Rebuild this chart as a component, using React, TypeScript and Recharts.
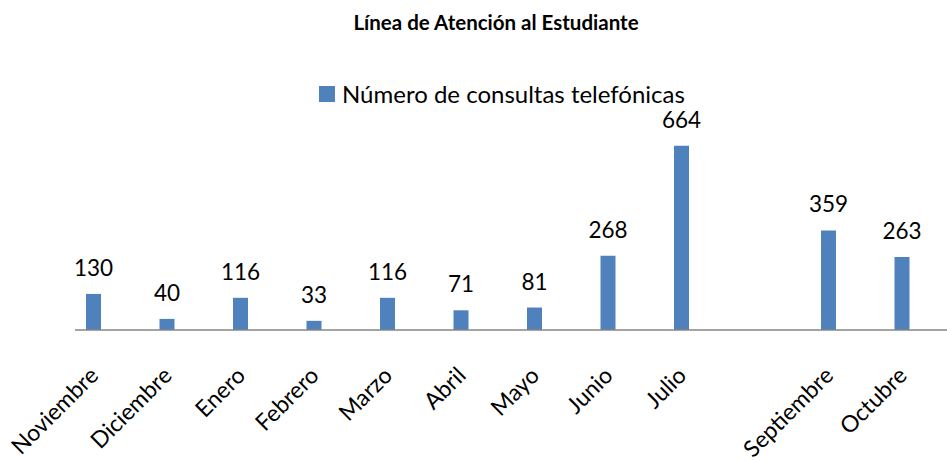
import React from 'react';
import { BarChart, Bar, XAxis, YAxis, LabelList } from 'recharts';

// Meses (Agosto sin dato ni etiqueta)
const meses = [
  'Noviembre',
  'Diciembre',
  'Enero',
  'Febrero',
  'Marzo',
  'Abril',
  'Mayo',
  'Junio',
  'Julio',
  '',
  'Septiembre',
  'Octubre',
];
const consultas: (number | null)[] = [130, 40, 116, 33, 116, 71, 81, 268, 664, null, 359, 263];

const datos = meses.map((mes, i) => ({ mes, consultas: consultas[i] }));

const FUENTE = 'Lato, "Open Sans", sans-serif';
const AZUL = '#4F81BD';

function TickMes(props: any) {
  const { x, payload } = props;
  const bx = x + 6;
  const by = 377;
  return (
    <text
      x={bx}
      y={by}
      textAnchor="end"
      fontSize={23}
      fontFamily={FUENTE}
      fill="#000"
      transform={`rotate(-45 ${bx} ${by})`}
    >
      {payload.value}
    </text>
  );
}

export default function App() {
  return (
    <div
      style={{
        position: 'absolute',
        left: 0,
        top: 0,
        width: 947,
        height: 461,
        background: '#fff',
        fontFamily: FUENTE,
      }}
    >
      <div
        style={{
          position: 'absolute',
          top: 10,
          left: 347,
          width: 298,
          textAlign: 'center',
          fontWeight: 700,
          fontSize: 20.5,
          lineHeight: '24px',
          whiteSpace: 'nowrap',
        }}
      >
        Línea de Atención al Estudiante
      </div>

      {/* Leyenda */}
      <div
        style={{
          position: 'absolute',
          top: 84,
          left: 319,
          display: 'flex',
          alignItems: 'center',
          whiteSpace: 'nowrap',
        }}
      >
        <span style={{ display: 'inline-block', width: 16, height: 16, background: AZUL, marginRight: 7 }} />
        <span style={{ fontSize: 24, lineHeight: '20px' }}>Número de consultas telefónicas</span>
      </div>

      <BarChart
        width={947}
        height={461}
        data={datos}
        margin={{ top: 108, right: 0, bottom: 71, left: 75 }}
        style={{ position: 'absolute', left: 0, top: 0 }}
      >
        <XAxis
          dataKey="mes"
          interval={0}
          height={60}
          tickLine={false}
          axisLine={{ stroke: '#868686', strokeWidth: 1.5 }}
          padding={{ left: -18, right: 8 }}
          tick={<TickMes />}
        />
        <YAxis hide domain={[0, 800]} />
        <Bar dataKey="consultas" fill={AZUL} barSize={15} isAnimationActive={false}>
          <LabelList
            dataKey="consultas"
            position="top"
            offset={18}
            fontSize={22.5}
            fontFamily={FUENTE}
            fill="#000"
            formatter={(v: any) => (v == null ? '' : v)}
          />
        </Bar>
      </BarChart>
    </div>
  );
}
